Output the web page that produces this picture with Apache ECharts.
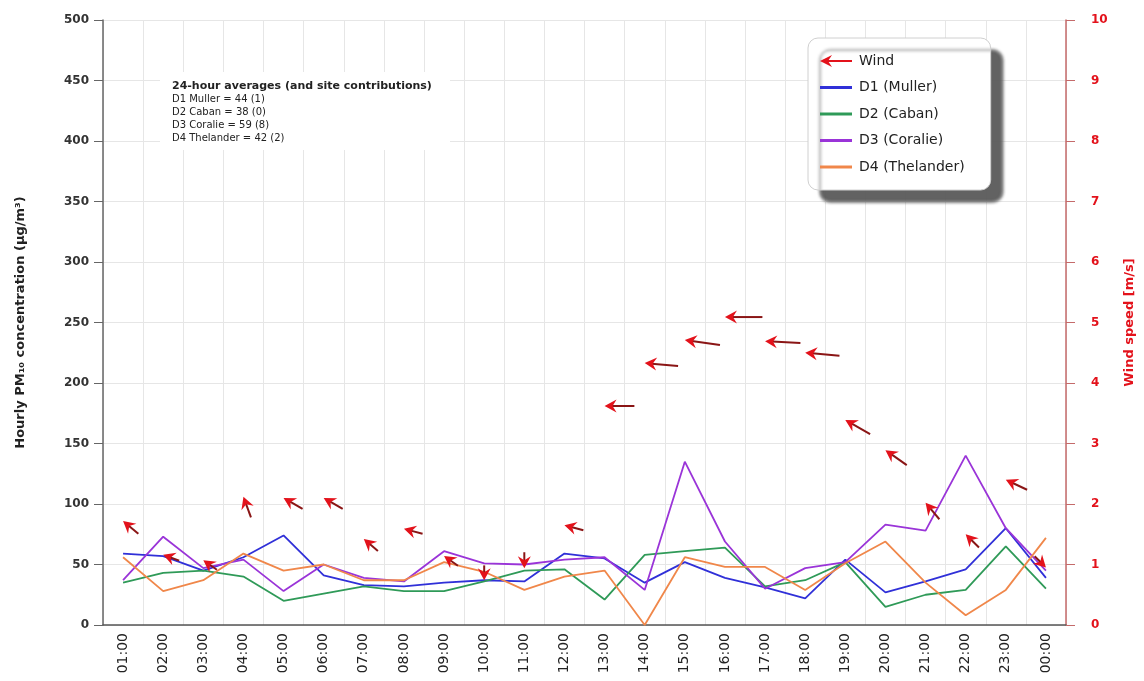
<!DOCTYPE html>
<html>
<head>
<meta charset="utf-8">
<script src="https://cdn.jsdelivr.net/npm/echarts@6/dist/echarts.min.js"></script>
<style>
  html, body { margin: 0; padding: 0; background: #fff; }
  #chart { width: 1144px; height: 681px; }
</style>
</head>
<body>
<div id="chart"></div>
<script>
// Hour labels (hour ending)
const hours = ['01:00','02:00','03:00','04:00','05:00','06:00','07:00','08:00','09:00','10:00','11:00','12:00',
               '13:00','14:00','15:00','16:00','17:00','18:00','19:00','20:00','21:00','22:00','23:00','00:00'];

// Hourly PM10 concentrations (µg/m³) per site
const d1Muller    = [59, 57, 45, 56, 74, 41, 33, 32, 35, 37, 36, 59, 55, 35, 52, 39, 31, 22, 54, 27, 36, 46, 80, 39];
const d2Caban     = [35, 43, 45, 40, 20, 26, 32, 28, 28, 36, 45, 46, 21, 58, 61, 64, 32, 37, 52, 15, 25, 29, 65, 30];
const d3Coralie   = [37, 73, 47, 54, 28, 50, 39, 36, 61, 51, 50, 54, 56, 29, 135, 69, 30, 47, 52, 83, 78, 140, 80, 45];
const d4Thelander = [56, 28, 37, 59, 45, 50, 37, 37, 52, 44, 29, 40, 45, 0, 56, 48, 48, 29, 51, 69, 35, 8, 29, 72];

// Wind speed (m/s) and direction the arrow points (degrees, counter-clockwise from east)
const windSpeed = [1.72, 1.16, 1.07, 2.12, 2.1, 2.1, 1.42, 1.59, 1.14, 0.74, 0.94, 1.65,
                   3.62, 4.33, 4.71, 5.09, 4.69, 4.5, 3.39, 2.89, 2.02, 1.5, 2.4, 0.95];
const windDir   = [140, 160, 145, 110, 150, 150, 140, 165, 145, 270, 270, 165,
                   180, 175, 172, 180, 177, 175, 150, 145, 130, 135, 155, 315];

// Axis ticks
const pmTicks   = { min: 0, max: 500, interval: 50 };
const windTicks = { min: 0, max: 10, interval: 1 };

// Summary text block
const summaryTitle = '24-hour averages (and site contributions)';
const summaryLines = ['D1 Muller = 44 (1)', 'D2 Caban = 38 (0)', 'D3 Coralie = 59 (8)', 'D4 Thelander = 42 (2)'];

const FONT = '"DejaVu Sans", Verdana, sans-serif';
const colors = { d1: '#3030d8', d2: '#2f9a58', d3: '#9a34d8', d4: '#f0874a', wind: '#e3121b', windTail: '#8a1515' };

const windData = hours.map((h, i) => [i, windSpeed[i], windDir[i]]);

// Arrow drawn pointing west, tip on the data point, tail length grows with speed
function renderWind(params, api) {
  const p = api.coord([api.value(0), api.value(1)]);
  const v = api.value(1);
  const ang = api.value(2) * Math.PI / 180;
  const tail = 11 + 5.2 * v;
  return {
    type: 'group',
    x: p[0], y: p[1],
    rotation: ang - Math.PI,
    children: [
      { type: 'line', shape: { x1: 7, y1: 0, x2: tail, y2: 0 },
        style: { stroke: colors.windTail, lineWidth: 2 } },
      { type: 'polygon', shape: { points: [[0, 0], [12, -6.5], [8, 0], [12, 6.5]] },
        style: { fill: colors.wind } }
    ]
  };
}

function lineSeries(name, data, color) {
  return {
    name, type: 'line', data, symbol: 'none', yAxisIndex: 0,
    lineStyle: { color, width: 1.8 }, itemStyle: { color },
    z: 2
  };
}

const lineIcon = 'path://M0,0 L32,0 L32,3 L0,3 Z';

const chart = echarts.init(document.getElementById('chart'), null, { renderer: 'canvas' });

chart.setOption({
  animation: false,
  backgroundColor: '#fff',
  textStyle: { fontFamily: FONT },
  grid: { left: 103, right: 72, top: 20, bottom: 56 },
  legend: {
    orient: 'vertical',
    left: 808, top: 38,
    padding: [16, 26, 16, 12],
    itemGap: 12.5,
    itemWidth: 32, itemHeight: 14,
    symbolKeepAspect: true,
    backgroundColor: '#fff',
    borderColor: '#d0d0d0', borderWidth: 1, borderRadius: 10,
    shadowColor: 'rgba(90,90,90,0.95)', shadowBlur: 3, shadowOffsetX: 12, shadowOffsetY: 12,
    textStyle: { fontSize: 14, lineHeight: 14, color: '#222', fontFamily: FONT, padding: [0, 0, 0, 2] },
    data: [
      { name: 'Wind', icon: 'path://M0,6 L12,0 L8,6 L12,12 Z M8,5 L32,5 L32,7 L8,7 Z', itemStyle: { color: colors.wind } },
      { name: 'D1 (Muller)', icon: lineIcon },
      { name: 'D2 (Caban)', icon: lineIcon },
      { name: 'D3 (Coralie)', icon: lineIcon },
      { name: 'D4 (Thelander)', icon: lineIcon }
    ]
  },
  graphic: [{
    type: 'rect', left: 160, top: 72, z: 10,
    shape: { width: 290, height: 78 },
    style: { fill: '#fff' }
  }, {
    type: 'text', left: 172, top: 79, z: 11,
    style: {
      text: '{b|' + summaryTitle + '}\n' + summaryLines.join('\n'),
      font: '10px ' + FONT, fill: '#222', lineHeight: 13.3,
      rich: { b: { fontWeight: 'bold', fontSize: 11, fontFamily: FONT, lineHeight: 13.3 } }
    }
  }],
  xAxis: {
    type: 'category', data: hours, boundaryGap: true,
    axisLine: { lineStyle: { color: '#555', width: 1.5 } },
    axisTick: { show: false },
    axisLabel: { rotate: 90, fontSize: 14, color: '#222', margin: 8 },
    splitLine: { show: true, lineStyle: { color: '#e6e6e6', width: 1 } }
  },
  yAxis: [{
    type: 'value', min: pmTicks.min, max: pmTicks.max, interval: pmTicks.interval,
    name: 'Hourly PM₁₀ concentration (µg/m³)', nameLocation: 'middle', nameRotate: 90, nameGap: 76,
    nameTextStyle: { fontSize: 13, fontWeight: 'bold', color: '#222' },
    axisLine: { show: true, lineStyle: { color: '#666', width: 1.5 } },
    axisTick: { show: true, length: 9, lineStyle: { color: '#666' } },
    axisLabel: { fontSize: 12, fontWeight: 'bold', color: '#333', margin: 14 },
    splitLine: { show: true, lineStyle: { color: '#e6e6e6', width: 1 } }
  }, {
    type: 'value', position: 'right', min: windTicks.min, max: windTicks.max, interval: windTicks.interval,
    name: 'Wind speed [m/s]', nameLocation: 'middle', nameRotate: 90, nameGap: 57,
    nameTextStyle: { fontSize: 13, fontWeight: 'bold', color: '#e3121b' },
    axisLine: { show: true, lineStyle: { color: '#c46a6a', width: 1.5 } },
    axisTick: { show: true, length: 9, lineStyle: { color: '#c46a6a' } },
    axisLabel: { fontSize: 12, fontWeight: 'bold', color: '#e3121b', margin: 25 },
    splitLine: { show: false }
  }],
  series: [
    {
      name: 'Wind', type: 'custom', xAxisIndex: 0, yAxisIndex: 1,
      data: windData, renderItem: renderWind,
      encode: { x: 0, y: 1 },
      itemStyle: { color: colors.wind }, z: 5
    },
    lineSeries('D1 (Muller)', d1Muller, colors.d1),
    lineSeries('D2 (Caban)', d2Caban, colors.d2),
    lineSeries('D3 (Coralie)', d3Coralie, colors.d3),
    lineSeries('D4 (Thelander)', d4Thelander, colors.d4)
  ]
});
</script>
</body>
</html>
